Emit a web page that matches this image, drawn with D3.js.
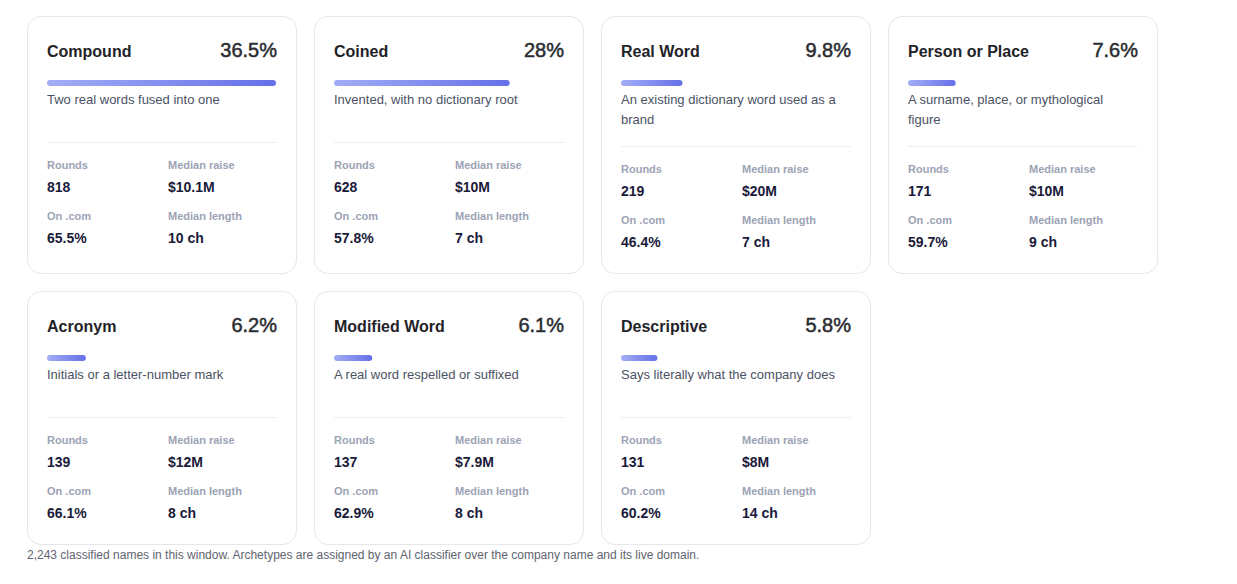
<!DOCTYPE html>
<html><head><meta charset="utf-8">
<script src="https://cdn.jsdelivr.net/npm/d3@7"></script>
<style>
html,body{margin:0;padding:0;background:#fff;}
body{font-family:"Helvetica Neue",Helvetica,Arial,"Liberation Sans",sans-serif;width:1237px;height:584px;overflow:hidden;}
#wrap{position:absolute;left:27px;top:16px;width:1131px;}
.grid{display:grid;grid-template-columns:repeat(4,270px);column-gap:17px;row-gap:17px;}
.card{box-sizing:border-box;border:1px solid #e5e7eb;border-radius:14px;padding:20px 19px 22px 19px;background:#fff;}
.head{display:flex;justify-content:space-between;align-items:baseline;height:30px;position:relative;top:2px;}
.name{font-size:16px;font-weight:700;color:#1f2328;margin-top:3px;}
.pct{font-size:20px;font-weight:400;color:#2a2c31;-webkit-text-stroke:0.5px #2a2c31;}
.bar{height:6px;margin-top:13px;}
.desc{font-size:13px;line-height:20px;color:#4b5263;margin-top:4px;min-height:36px;}
.div{border-top:1px solid #eceef2;margin-top:16px;}
.stats{display:grid;grid-template-columns:1fr 1fr;column-gap:12px;margin-top:16px;}
.lab{font-size:11px;font-weight:600;color:#9ca3b5;line-height:13px;}
.val{font-size:14px;font-weight:700;color:#1a1a3a;line-height:17px;margin-top:7px;}
.top .val{margin-bottom:14px;}
#foot{position:absolute;left:27px;top:548px;font-size:12px;color:#5f6470;}
</style></head>
<body>
<div id="wrap"><div class="grid"></div></div>
<div id="foot"></div>
<script>
const categories = ["Compound","Coined","Real Word","Person or Place","Acronym","Modified Word","Descriptive"];
const shares = [36.5, 28, 9.8, 7.6, 6.2, 6.1, 5.8];
const shareLabels = ["36.5%","28%","9.8%","7.6%","6.2%","6.1%","5.8%"];
const descriptions = [
  "Two real words fused into one",
  "Invented, with no dictionary root",
  "An existing dictionary word used as a brand",
  "A surname, place, or mythological figure",
  "Initials or a letter-number mark",
  "A real word respelled or suffixed",
  "Says literally what the company does"
];
const rounds = [818, 628, 219, 171, 139, 137, 131];
const medianRaise = ["$10.1M","$10M","$20M","$10M","$12M","$7.9M","$8M"];
const onCom = ["65.5%","57.8%","46.4%","59.7%","66.1%","62.9%","60.2%"];
const medianLength = [10, 7, 7, 9, 8, 8, 14];
const footnote = "2,243 classified names in this window. Archetypes are assigned by an AI classifier over the company name and its live domain.";

const data = categories.map((c,i)=>({name:c, share:shares[i], label:shareLabels[i], desc:descriptions[i],
  rounds:rounds[i], raise:medianRaise[i], com:onCom[i], len:medianLength[i]}));

const barW = 229;
const x = d3.scaleLinear().domain([0, d3.max(shares)]).range([0, barW]);

const cards = d3.select(".grid").selectAll(".card").data(data).join("div").attr("class","card");
const head = cards.append("div").attr("class","head");
head.append("div").attr("class","name").text(d=>d.name);
head.append("div").attr("class","pct").text(d=>d.label);

const svg = cards.append("svg").attr("class","bar").attr("width",barW).attr("height",6).style("display","block");
const defs = svg.append("defs");
const grad = defs.append("linearGradient").attr("id",(d,i)=>"g"+i).attr("x1","0").attr("x2","1");
grad.append("stop").attr("offset","0").attr("stop-color","#a3adf6");
grad.append("stop").attr("offset","1").attr("stop-color","#6570e8");
svg.append("rect").attr("x",0).attr("y",0).attr("height",6).attr("rx",3)
  .attr("width",d=>x(d.share)).attr("fill",(d,i)=>`url(#g${i})`);

cards.append("div").attr("class","desc").text(d=>d.desc);
cards.append("div").attr("class","div");
const st = cards.append("div").attr("class","stats");
const cell = (lab, f, cls) => { const c = st.append("div").attr("class",cls); c.append("div").attr("class","lab").text(lab); c.append("div").attr("class","val").text(f); };
cell("Rounds", d=>d.rounds, "top");
cell("Median raise", d=>d.raise, "top");
cell("On .com", d=>d.com, "bot");
cell("Median length", d=>d.len+" ch", "bot");

d3.select("#foot").text(footnote);
</script>
</body></html>
